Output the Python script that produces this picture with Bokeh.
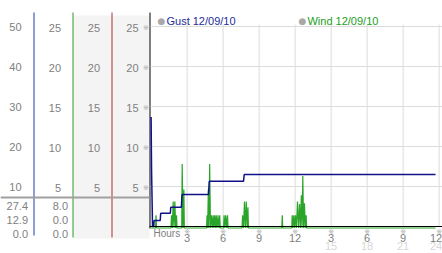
from bokeh.plotting import figure
from bokeh.models import Range1d
from bokeh.core.properties import value
from bokeh.embed import file_html
from bokeh.resources import INLINE

# ---------------- data ----------------
gust_hours = [0.0, 0.04, 0.12, 0.22, 0.25, 0.76, 0.80, 1.60, 1.64, 2.52, 2.58,
              4.78, 4.85, 7.70, 7.76, 23.70]
gust_mph = [27.4, 13.8, 0.0, 0.0, 1.5, 1.5, 3.3, 3.3, 4.8, 4.8, 8.0,
            8.0, 11.3, 11.3, 13.0, 13.0]

wind_hours = [0.00, 0.37, 0.41, 0.45,
              1.66, 1.70, 1.77, 1.84, 1.91, 1.98, 2.05, 2.12, 2.16,
              2.55, 2.59, 2.66, 2.73, 2.77,
              4.62, 4.66, 4.71, 4.77, 4.82, 4.88, 4.95, 5.03, 5.10, 5.17, 5.23,
              5.30, 5.37, 5.43, 5.50, 5.58, 5.65, 5.72, 5.76,
              6.04, 6.08, 6.15, 6.22, 6.30, 6.37, 6.41,
              7.58, 7.62, 7.70, 7.78, 7.85, 7.93, 8.00, 8.07, 8.11,
              10.89, 10.93, 10.97,
              11.72, 11.76, 11.82, 11.89, 11.96, 12.03, 12.11, 12.20, 12.28,
              12.37, 12.44, 12.52, 12.58, 12.64, 12.71, 12.78, 12.85, 12.92, 12.96,
              23.70]
wind_mph = [0, 0, 1.6, 0,
            0, 1.6, 0, 3.3, 0, 3.3, 0, 1.6, 0,
            0, 8.0, 0, 4.8, 0,
            0, 1.6, 0, 4.8, 0, 8.0, 0, 1.6, 0, 1.6, 0,
            1.6, 0, 1.6, 0, 1.6, 0, 1.6, 0,
            0, 1.6, 0, 1.6, 0, 1.6, 0,
            0, 1.6, 0, 3.3, 0, 3.3, 0, 2.6, 0,
            0, 1.6, 0,
            0, 1.6, 0, 1.6, 0, 1.6, 0, 3.3, 0,
            3.0, 0, 4.1, 0, 6.5, 0, 3.1, 0, 1.6, 0,
            0]

gust_ticks = [50, 40, 30, 20, 10]
wind_ticks = [25, 20, 15, 10, 5]
gust_stats = [27.4, 12.9, 0.0]      # max / avg / min
wind_stats = [8.0, 0.0, 0.0]

hour_ticks = [3, 6, 9, 12, 15, 18, 21, 24]
hour_labels = ["3", "6", "9", "12", "3", "6", "9", "12"]
pm_ticks = [15, 18, 21, 24]
pm_labels = ["15", "18", "21", "24"]
x_title = "Hours"

gust_name = "Gust 12/09/10"
wind_name = "Wind 12/09/10"

# ---------------- styles ----------------
FONT = "Liberation Sans"
LABEL_GRAY = "#808080"
GUST_COLOR = "#10108a"
GUST_TEXT = "#1e2d9a"
WIND_COLOR = "#2aa52a"
WIND_TEXT = "#22a022"
GRID = "#dcdcdc"
TICK_MARK = "#a8a8a8"

# one canvas: hours on x, gust (mph, 4 px/unit) on y,
# a "wind" y scale (8 px/unit) and a "px" x scale for the left scale panel
p = figure(width=442, height=253,
           x_range=Range1d(-12.55, 24.283), y_range=Range1d(-6.75, 56.5),
           min_border=0, toolbar_location=None, output_backend="svg",
           x_axis_location=None, y_axis_location=None,
           outline_line_color=None)
p.extra_y_ranges = {"wind": Range1d(-3.1875, 28.4375)}
p.extra_x_ranges = {"px": Range1d(0, 442)}
p.grid.visible = False

txt = dict(text_baseline="middle", text_font=value(FONT),
           text_font_size="11px", text_color=LABEL_GRAY)

# ---------------- left scale panel ----------------
p.quad(left=[72.5], right=[149], top=[52.75], bottom=[-3.0],
       fill_color="#f4f4f4", line_color=None, x_range_name="px")
p.segment(x0=[33.5, 72.5, 111.5, 149.5], x1=[33.5, 72.5, 111.5, 149.5],
          y0=[-2.25, -2.75, -2.75, -0.5], y1=[53.5, 53.5, 53.5, 53.5],
          line_color=["#1e3ca0", "#2a9a2a", "#b02a2a", "#000000"],
          line_width=1, x_range_name="px")
p.segment(x0=[0], x1=[149], y0=[7.25], y1=[7.25], line_color="#a0a0a0",
          line_width=2, x_range_name="px")

p.text(x=21, y=gust_ticks, text=[str(v) for v in gust_ticks],
       text_align="right", x_range_name="px", **txt)
for cx in (60.5, 99.5, 138):
    p.text(x=cx, y=wind_ticks, text=[str(v) for v in wind_ticks],
           text_align="right", x_range_name="px", y_range_name="wind", **txt)
p.text(x=145.5, y=wind_ticks, text=["※"] * len(wind_ticks),
       text_align="center", text_baseline="middle",
       text_font=value("DejaVu Sans"), text_font_size="7px",
       text_color=TICK_MARK, x_range_name="px", y_range_name="wind")

stat_rows = [5.25, 1.75, -1.75]
p.text(x=27.5, y=stat_rows, text=["%.1f" % v for v in gust_stats],
       text_align="right", x_range_name="px", **txt)
p.text(x=67.5, y=stat_rows, text=["%.1f" % v for v in wind_stats],
       text_align="right", x_range_name="px", **txt)

# ---------------- chart grid ----------------
p.segment(x0=hour_ticks, x1=hour_ticks, y0=0, y1=50.5,
          line_color=GRID, line_width=1)
p.segment(x0=150, x1=442, y0=gust_ticks, y1=gust_ticks,
          line_color=GRID, line_width=1, x_range_name="px")

# ---------------- series ----------------
p.line(wind_hours, wind_mph, y_range_name="wind", line_color=WIND_COLOR,
       line_width=1.2)
p.line(gust_hours, gust_mph, line_color=GUST_COLOR, line_width=1.5)

# x axis line
p.segment(x0=[149], x1=[442], y0=[0], y1=[0], line_color="black",
          line_width=1, x_range_name="px")

# ---------------- x tick marks and labels ----------------
nudge = [0] * (len(hour_ticks) - 1) + [-3]
p.text(x=hour_ticks, y=-1.25, text=["※"] * len(hour_ticks),
       text_align="center", text_baseline="middle",
       text_font=value("DejaVu Sans"), text_font_size="7px",
       text_color=TICK_MARK)
p.text(x=hour_ticks, y=-2.75, text=hour_labels, x_offset=nudge,
       text_align="center", **txt)
p.text(x=pm_ticks, y=-4.875, text=pm_labels,
       x_offset=[0] * (len(pm_ticks) - 1) + [-3],
       text_align="center", text_baseline="middle", text_font=value(FONT),
       text_font_size="11px", text_color="#d8d8d8")
p.text(x=[0.2], y=[-1.7], text=[x_title], text_align="left",
       text_baseline="middle", text_font=value(FONT), text_font_size="10px",
       text_color=LABEL_GRAY)

# ---------------- legend ----------------
p.text(x=[0.87, 12.62], y=51.5, text=["●", "●"], text_align="center",
       text_baseline="middle", text_font=value("DejaVu Sans"),
       text_font_size="9px", text_color="#a8a8a8")
p.text(x=[1.28], y=51.5, text=[gust_name], text_align="left",
       text_baseline="middle", text_font=value(FONT), text_font_size="11px",
       text_color=GUST_TEXT)
p.text(x=[13.03], y=51.5, text=[wind_name], text_align="left",
       text_baseline="middle", text_font=value(FONT), text_font_size="11px",
       text_color=WIND_TEXT)

open("out.html", "w").write(file_html(p, INLINE))
